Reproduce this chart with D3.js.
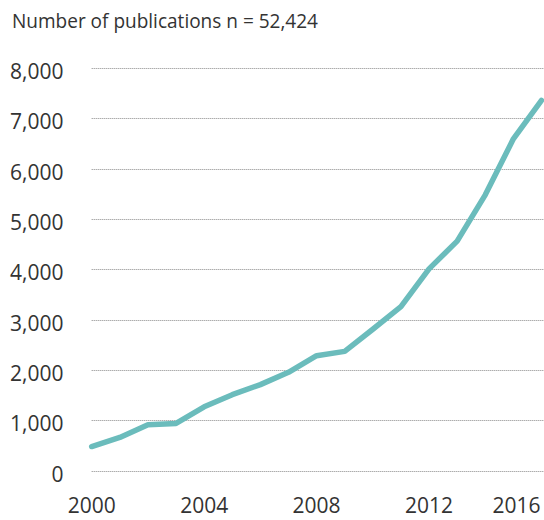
<!DOCTYPE html>
<html>
<head>
<meta charset="utf-8">
<script src="https://cdn.jsdelivr.net/npm/d3@7"></script>
<style>
  html, body { margin: 0; padding: 0; background: #fff; }
  svg { display: block; }
  text { font-family: "Open Sans", "Noto Sans", sans-serif; fill: #333; }
</style>
</head>
<body>
<svg id="chart" width="544" height="520"></svg>
<script>
const title = "Number of publications n = 52,424";
const years = [2000, 2001, 2002, 2003, 2004, 2005, 2006, 2007, 2008, 2009, 2010, 2011, 2012, 2013, 2014, 2015, 2016];
const publications = [480, 660, 915, 940, 1270, 1510, 1710, 1955, 2285, 2370, 2810, 3260, 4010, 4560, 5480, 6594, 7356];
const yTicks = [0, 1000, 2000, 3000, 4000, 5000, 6000, 7000, 8000];
const xTicks = [2000, 2004, 2008, 2012, 2016];

const svg = d3.select("#chart");
const x = d3.scaleLinear().domain([2000, 2016]).range([91.7, 541.5]);
const y = d3.scaleLinear().domain([0, 8000]).range([470.7, 68]);
const fmt = d3.format(",");

svg.append("text")
  .attr("x", 12).attr("y", 28)
  .attr("font-size", 20.5)
  .attr("textLength", 306)
  .attr("lengthAdjust", "spacingAndGlyphs")
  .text(title);

// gridlines
svg.append("g").selectAll("line").data(yTicks).join("line")
  .attr("x1", 91.7).attr("x2", 544)
  .attr("y1", d => Math.round(y(d)) + 0.5).attr("y2", d => Math.round(y(d)) + 0.5)
  .attr("stroke", "#888").attr("stroke-width", 1)
  .attr("stroke-dasharray", "1,1");

// y labels
svg.append("g").selectAll("text").data(yTicks).join("text")
  .attr("x", 63.5).attr("y", d => y(d) + 3)
  .attr("text-anchor", "end").attr("dominant-baseline", "central")
  .attr("font-size", 21)
  .text(d => fmt(d));

// x labels
svg.append("g").selectAll("text").data(xTicks).join("text")
  .attr("x", (d, i) => i === xTicks.length - 1 ? 540.5 : x(d))
  .attr("y", 512.5)
  .attr("text-anchor", (d, i) => i === xTicks.length - 1 ? "end" : "middle")
  .attr("font-size", 21)
  .text(d => d);

// line
const line = d3.line().x((d, i) => x(years[i])).y(d => y(d));
svg.append("path")
  .datum(publications)
  .attr("d", line)
  .attr("fill", "none")
  .attr("stroke", "#6bbcbc")
  .attr("stroke-width", 5.5)
  .attr("stroke-linecap", "round")
  .attr("stroke-linejoin", "round");
</script>
</body>
</html>
